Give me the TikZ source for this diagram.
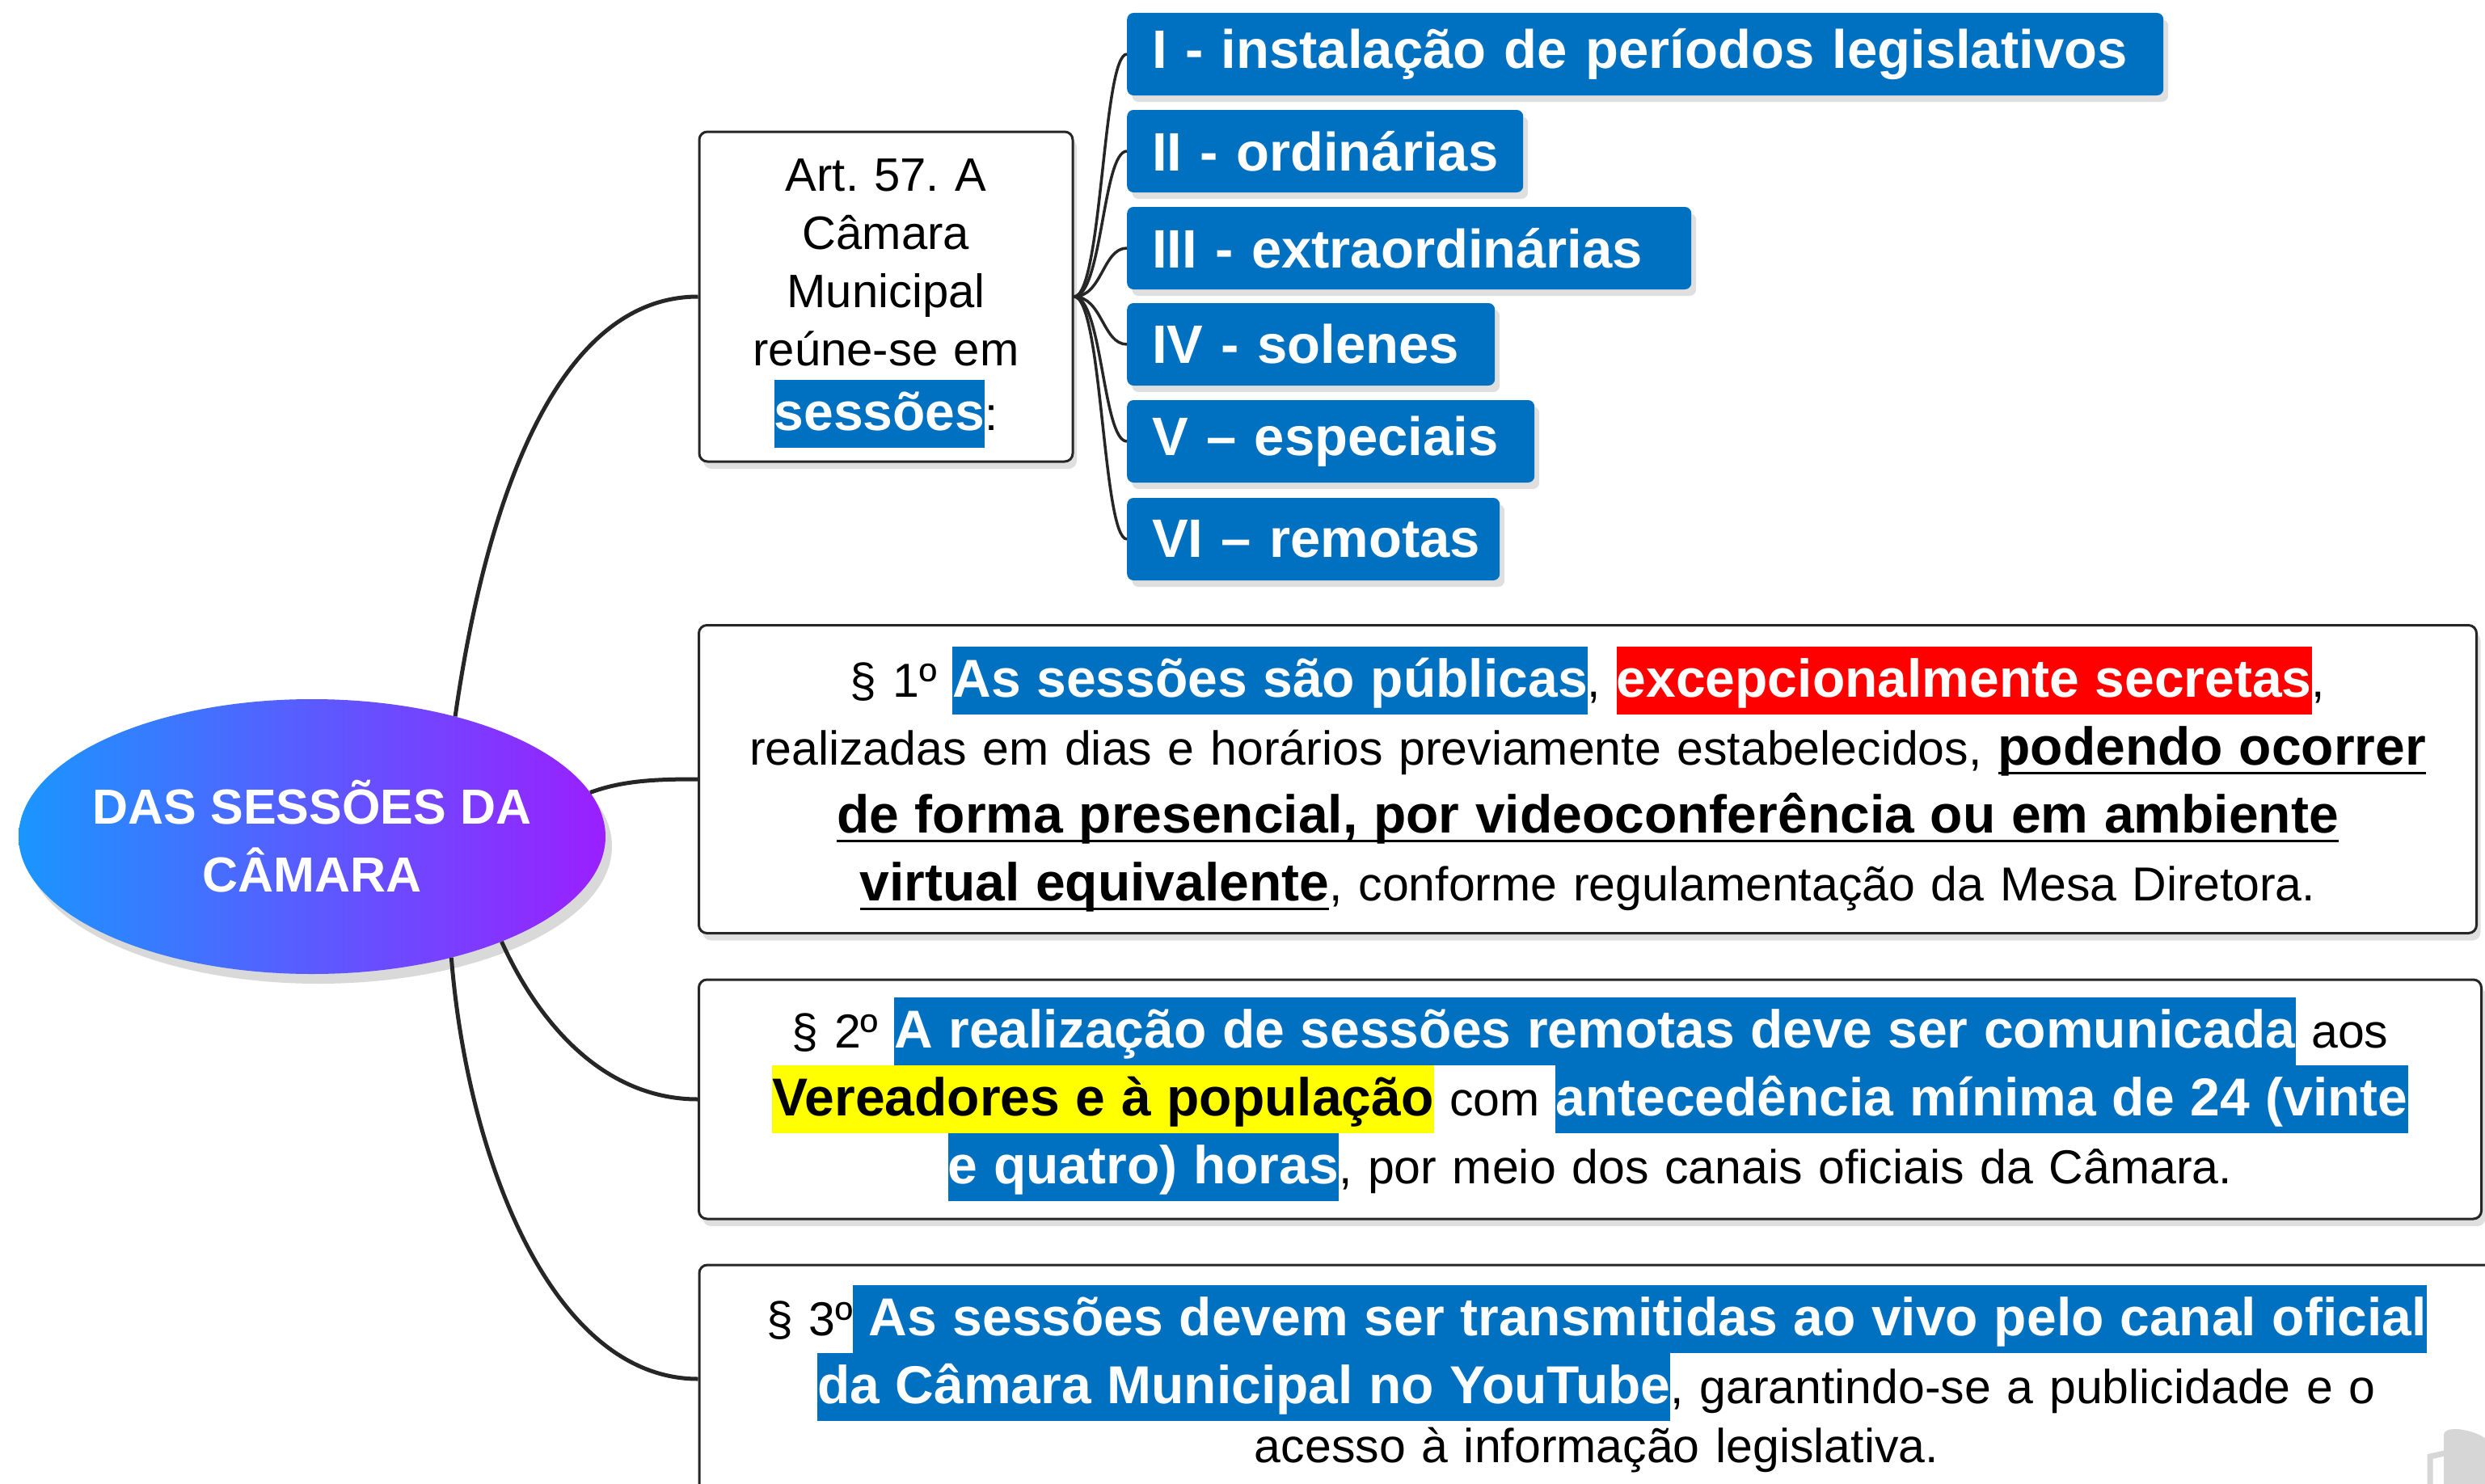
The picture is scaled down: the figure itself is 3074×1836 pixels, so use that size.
\documentclass[tikz,border=0pt]{standalone}
\usepackage{fontspec}
\setmainfont{Liberation Sans}
\usetikzlibrary{shapes.geometric,shadows}
\frenchspacing

\definecolor{sesblue}{HTML}{0070C0}
\definecolor{sesred}{HTML}{FF0000}
\definecolor{sesyellow}{HTML}{FFFF00}
\definecolor{gradleft}{HTML}{1A96FF}
\definecolor{gradright}{HTML}{9B1FFF}
\definecolor{linegray}{HTML}{262626}
\definecolor{icongray}{HTML}{D6D6D6}

\newcommand{\hlbox}[3]{{\setlength{\fboxsep}{0pt}\colorbox{#1}{\rule[-22pt]{0pt}{84pt}\color{#2}\bfseries\fontsize{66}{84}\selectfont#3}}}
\newcommand{\hlb}[1]{\hlbox{sesblue}{white}{#1}}
\newcommand{\hlr}[1]{\hlbox{sesred}{white}{#1}}
\newcommand{\hly}[1]{\hlbox{sesyellow}{black}{#1}}
\newcommand{\ulb}[1]{\leavevmode{\bfseries\fontsize{66}{84}\selectfont\setbox0\hbox{#1}\rlap{\rule[-12pt]{\wd0}{3.5pt}}\box0}}

\begin{document}
\begin{tikzpicture}[x=1pt,y=-1pt,
  branch/.style={line width=5pt,draw=linegray},
  twig/.style={line width=3.5pt,draw=linegray},
  itembox/.style={fill=sesblue,text=white,rounded corners=8pt,anchor=west,minimum height=102pt,
    inner xsep=31pt,inner ysep=0pt,align=left,font=\fontsize{67}{80}\selectfont\bfseries,
    drop shadow={shadow xshift=6pt,shadow yshift=-8pt,opacity=0.25}},
  textbox/.style={draw=linegray,line width=3pt,fill=white,rounded corners=10pt,align=center,
    inner sep=10pt,font=\fontsize{59}{84}\selectfont,
    drop shadow={shadow xshift=5pt,shadow yshift=-9pt,opacity=0.25}}]
\useasboundingbox (0,0) rectangle (3074,1836);

\node[ellipse,minimum width=726pt,minimum height=340pt,inner xsep=-30pt,inner ysep=0pt,
  left color=gradleft,right color=gradright,text=white,align=center,font=\fontsize{61}{84}\selectfont\bfseries,
  drop shadow={shadow xshift=8pt,shadow yshift=-12pt,opacity=0.3}] (root) at (386,1035) {DAS SESSÕES DA\\CÂMARA};

\node[textbox,minimum width=462pt,minimum height=408pt,text width=420pt,font=\fontsize{58}{72}\selectfont] (art) at (1096,367)
  {\rule{0pt}{56pt}Art. 57. A\\Câmara\\Municipal\\reúne-se em\\[8pt]\hlb{sessões}:};

\node[itembox,text width=1220pt] (inst) at (1394,67) {\mbox{I - instalação de períodos legislativos}};
\node[itembox,text width=428pt] (ord) at (1394,187) {\mbox{II - ordinárias}};
\node[itembox,text width=636pt] (extra) at (1394,307) {\mbox{III - extraordinárias}};
\node[itembox,text width=393pt] (sol) at (1394,426) {\mbox{IV - solenes}};
\node[itembox,text width=442pt] (esp) at (1394,546) {\mbox{V – especiais}};
\node[itembox,text width=399pt] (rem) at (1394,667) {\mbox{VI – remotas}};

\node[textbox,minimum width=2199pt,minimum height=381pt,text width=2150pt] (par1) at (1964,964)
  {§ 1º \hlb{As sessões são públicas}, \hlr{excepcionalmente secretas},\\
   realizadas em dias e horários previamente estabelecidos, \ulb{podendo ocorrer}\\
   \ulb{de forma presencial, por videoconferência ou em ambiente}\\
   \ulb{virtual equivalente}, conforme regulamentação da Mesa Diretora.};

\node[textbox,minimum width=2205pt,minimum height=296pt,text width=2150pt] (par2) at (1967,1360)
  {§ 2º \hlb{A realização de sessões remotas deve ser comunicada} aos\\
   \hly{Vereadores e à população} com \hlb{antecedência mínima de 24 (vinte}\\
   \hlb{e quatro) horas}, por meio dos canais oficiais da Câmara.};

\node[textbox,minimum width=2220pt,minimum height=282pt,text width=2150pt] (par3) at (1975,1706)
  {§ 3º\hlb{~As sessões devem ser transmitidas ao vivo pelo canal oficial}\\
   \hlb{da Câmara Municipal no YouTube}, garantindo-se a publicidade e o\\[-11pt]
   acesso à informação legislativa.};

\draw[branch] (root.40) .. controls +(40,-280) and +(-170,0) .. (art.west);
\draw[branch] (root.9) .. controls +(40,-15) and +(-50,0) .. (par1.west);
\draw[branch] (root.-29) .. controls +(50,110) and +(-110,0) .. (par2.west);
\draw[branch] (root.-41) .. controls +(20,250) and +(-180,0) .. (par3.west);

\foreach \item in {inst,ord,extra,sol,esp,rem}
  \draw[twig] (art.east) .. controls +(35,0) and +(-30,0) .. (\item.west);

\fill[icongray] (3023,1840) -- (3023,1776) .. controls (3023,1769) and (3030,1768) .. (3040,1768)
  .. controls (3058,1770) and (3072,1776) .. (3080,1784) -- (3080,1840) -- cycle;
\draw[icongray,line width=7pt] (3006,1840) -- (3006,1802) -- (3024,1798);
\end{tikzpicture}
\end{document}
